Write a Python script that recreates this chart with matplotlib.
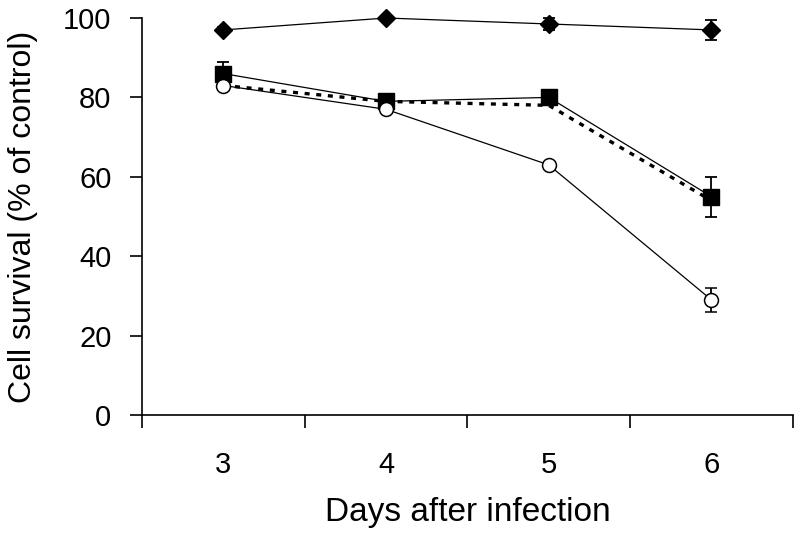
import matplotlib
matplotlib.use("Agg")
import matplotlib.pyplot as plt
import numpy as np

plt.rcParams["font.family"] = ["Liberation Sans", "DejaVu Sans"]

days = [3, 4, 5, 6]
tick_labels = ["3", "4", "5", "6"]

# diamonds (top series)
diamond = [97, 100, 98.5, 97]
diamond_err = [0.8, 0.5, 1.5, 2.5]
# filled squares
square = [86, 79, 80, 55]
square_err = [3, 0.8, 1, 5]
# open circles
circle = [83, 77, 63, 29]
circle_err = [0.8, 0.8, 0.8, 3]
# dashed series (no markers)
dashed = [83, 79, 78, 54]

fig = plt.figure(figsize=(8, 5.33), dpi=100)
ax = fig.add_axes([0.1775, 0.2214, 0.8135, 0.7448])

ax.plot(days, dashed, color="black", lw=2.4, dashes=(1.5, 2.0), clip_on=False, zorder=2)

ax.errorbar(days, diamond, yerr=diamond_err, color="black", lw=0.9, marker="D",
            ms=9, mfc="black", mec="black", capsize=4.5, elinewidth=1.3,
            capthick=1.3, clip_on=False, zorder=3)
ax.errorbar(days, square, yerr=square_err, color="black", lw=0.9, marker="s",
            ms=11, mfc="black", mec="black", capsize=4.5, elinewidth=1.3,
            capthick=1.3, clip_on=False, zorder=3)
ax.errorbar(days, circle, yerr=circle_err, color="black", lw=0.9, marker="o",
            ms=10, mfc="white", mec="black", mew=1.1, capsize=4.5, elinewidth=1.3,
            capthick=1.3, clip_on=False, zorder=4)

ax.set_xlim(2.5, 6.5)
ax.set_ylim(0, 100)

ax.set_xticks([2.5, 3.5, 4.5, 5.5, 6.5])
ax.set_xticklabels([])
ax.set_xticks(days, minor=True)
ax.set_xticklabels(tick_labels, minor=True)
ax.tick_params(axis="x", which="major", direction="out", length=9, width=1.2)
ax.tick_params(axis="x", which="minor", length=0, pad=26, labelsize=21)

ax.set_yticks([0, 20, 40, 60, 80, 100])
ax.tick_params(axis="y", direction="out", length=9, width=1.2, pad=13, labelsize=21)

for s in ["top", "right"]:
    ax.spines[s].set_visible(False)
for s in ["left", "bottom"]:
    ax.spines[s].set_linewidth(1.2)

ax.set_xlabel("Days after infection", fontsize=24, labelpad=13)
ax.set_ylabel("Cell survival (% of control)", fontsize=23, labelpad=18)

fig.savefig("out.png", dpi=100)
